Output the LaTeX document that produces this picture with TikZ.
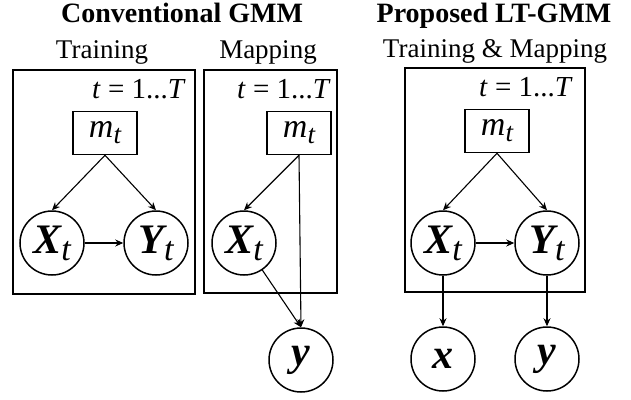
\documentclass[tikz,border=0pt]{standalone}
\usepackage{fontspec}
\setmainfont{Liberation Serif}
\usetikzlibrary{arrows.meta}
\newcommand\bvar[2]{{\bfseries\itshape #1}\raisebox{-7pt}{\fontsize{34}{34}\selectfont\itshape #2}}
\newcommand\mvar{\textit{m}\raisebox{-6pt}{\fontsize{27}{27}\selectfont\itshape t}}
\newcommand\tlabel{\textit{t} = 1...\textit{T}}
\begin{document}
\begin{tikzpicture}[x=1pt,y=-1pt,
 plate/.style={draw, line width=1.9pt, inner sep=0pt},
 var/.style={draw, circle, line width=1.5pt, minimum size=64pt, inner sep=0pt, font=\fontsize{42}{42}\selectfont},
 mbox/.style={draw, line width=1.5pt, minimum width=64pt, minimum height=43pt, inner sep=0pt, font=\fontsize{34}{34}\selectfont},
 arr/.style={-{Stealth[length=8pt,width=7pt]}, line width=1.1pt},
 title/.style={anchor=base, font=\fontsize{28}{30}\selectfont\bfseries},
 sublab/.style={anchor=base, font=\fontsize{27}{28}\selectfont},
 tlab/.style={anchor=base east, inner sep=0pt, font=\fontsize{29}{30}\selectfont}]
\useasboundingbox (0,0) rectangle (631,399);
% titles
\node[title] (t1) at (182,22.5) {Conventional GMM};
\node[title] (t2) at (494,22.5) {Proposed LT-GMM};
\node[sublab] (s1) at (102,58) {Training};
\node[sublab] (s2) at (268,58) {Mapping};
\node[sublab] (s3) at (495,57) {Training \& Mapping};
% plates
\node[plate, minimum width=182pt, minimum height=224pt] (p1) at (104,182) {};
\node[plate, minimum width=133pt, minimum height=223pt] (p2) at (270.5,181.5) {};
\node[plate, minimum width=180pt, minimum height=224pt] (p3) at (495,180) {};
\node[tlab] (l1) at (186,98) {\tlabel};
\node[tlab] (l2) at (331,98) {\tlabel};
\node[tlab] (l3) at (573,96) {\tlabel};
% conventional training
\node[mbox] (m1) at (105,133) {\mvar};
\node[var] (x1) at (52,243) {\bvar{X}{t}};
\node[var] (y1) at (156,243) {\bvar{Y}{t}};
\draw[arr] (m1.south) -- (x1.north);
\draw[arr] (m1.south) -- (y1.north);
\draw[arr] (x1) -- (y1);
% conventional mapping
\node[mbox] (m2) at (299,133) {\mvar};
\node[var] (x2) at (244,243) {\bvar{X}{t}};
\node[var] (y2) at (301,360) {{\bfseries\itshape y}};
\draw[arr] (m2.south) -- (x2.north);
\draw[arr] (m2.south) -- (y2.north);
\draw[arr] (x2) -- (y2.north);
% proposed
\node[mbox] (m3) at (497,131) {\mvar};
\node[var] (x3) at (443,243) {\bvar{X}{t}};
\node[var] (y3) at (547,243) {\bvar{Y}{t}};
\node[var] (xo) at (443,359) {{\bfseries\itshape x}};
\node[var] (yo) at (547,359) {{\bfseries\itshape y}};
\draw[arr] (m3.south) -- (x3.north);
\draw[arr] (m3.south) -- (y3.north);
\draw[arr] (x3) -- (y3);
\draw[arr] (x3) -- (xo);
\draw[arr] (y3) -- (yo);
\end{tikzpicture}
\end{document}
